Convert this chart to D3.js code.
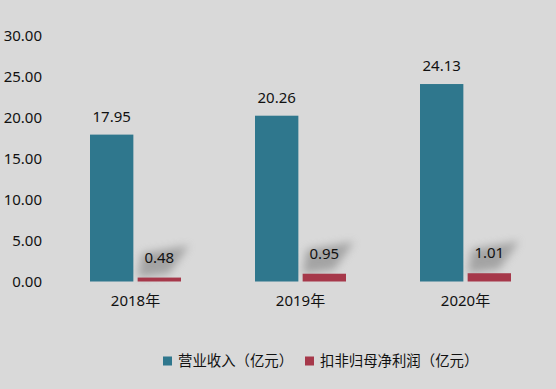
<!DOCTYPE html>
<html>
<head>
<meta charset="utf-8">
<script src="https://cdn.jsdelivr.net/npm/d3@7"></script>
<style>
  body { margin: 0; background: #d9d9d9; }
  svg { display: block; }
  text { font-family: "Noto Sans", "Noto Sans CJK SC", sans-serif; fill: #111; }
</style>
</head>
<body>
<svg id="chart" width="556" height="389"></svg>
<script>
const years = ["2018年", "2019年", "2020年"];
const revenue = [17.95, 20.26, 24.13];
const netProfit = [0.48, 0.95, 1.01];
const seriesNames = ["营业收入（亿元）", "扣非归母净利润（亿元）"];
const yTicks = [0, 5, 10, 15, 20, 25, 30];
const colors = ["#2f778d", "#a6384a"];

const svg = d3.select("#chart");
const margin = {top: 36, right: 8, bottom: 107.5, left: 53};
const width = 556 - margin.left - margin.right;
const height = 389 - margin.top - margin.bottom;

const defs = svg.append("defs");
defs.append("filter").attr("id", "blur")
  .attr("x", "-50%").attr("y", "-50%").attr("width", "200%").attr("height", "200%")
  .append("feGaussianBlur").attr("stdDeviation", 4);

const g = svg.append("g").attr("transform", "translate(" + margin.left + "," + margin.top + ")");

const x0 = d3.scaleBand().domain(years).range([0, width]).padding(0);
const x1 = d3.scaleBand().domain([0, 1]).range([x0.bandwidth() / 2 - 45.5, x0.bandwidth() / 2 + 45.5]).paddingInner(0.09);
const y = d3.scaleLinear().domain([0, 30]).range([height, 0]);

// y axis labels only
const yAxis = d3.axisLeft(y).tickValues(yTicks).tickFormat(d3.format(".2f")).tickSize(0).tickPadding(11);
g.append("g").attr("class", "axis axis--y")
  .call(yAxis)
  .call(s => s.select(".domain").remove())
  .call(s => s.selectAll("text").style("font-size", "15px").attr("fill", "#111"));

// x axis labels
const xAxis = d3.axisBottom(x0).tickSize(0).tickPadding(14);
g.append("g").attr("class", "axis axis--x")
  .attr("transform", "translate(0," + y(0) + ")")
  .call(xAxis)
  .call(s => s.select(".domain").remove())
  .call(s => s.selectAll("text").style("font-size", "15px").attr("fill", "#111"));

const groups = g.selectAll("g.year").data(years).enter().append("g")
  .attr("class", "year")
  .attr("transform", d => "translate(" + x0(d) + ",0)");

// shadows behind profit labels
groups.append("path")
  .attr("fill", "#808080")
  .attr("opacity", 0.6)
  .attr("filter", "url(#blur)")
  .attr("d", (d, i) => {
    const xl = x1(1), xr = x1(1) + x1.bandwidth();
    const yt = y(netProfit[i]);
    return "M" + xl + "," + yt + " L" + (xl + 4) + "," + (yt - 24) + " L" + (xr + 8) + "," + (yt - 32) + " L" + (xr - 12) + "," + (yt - 4) + " Z";
  });

// bars
groups.append("rect")
  .attr("x", x1(0)).attr("width", x1.bandwidth())
  .attr("y", (d, i) => y(revenue[i]))
  .attr("height", (d, i) => y(0) - y(revenue[i]))
  .attr("fill", colors[0]);
groups.append("rect")
  .attr("x", x1(1)).attr("width", x1.bandwidth())
  .attr("y", (d, i) => y(netProfit[i]))
  .attr("height", (d, i) => y(0) - y(netProfit[i]))
  .attr("fill", colors[1]);

// value labels
groups.append("text")
  .attr("x", x1(0) + x1.bandwidth() / 2)
  .attr("y", (d, i) => y(revenue[i]) - 13)
  .attr("text-anchor", "middle")
  .style("font-size", "15px")
  .text((d, i) => revenue[i].toFixed(2));
groups.append("text")
  .attr("x", x1(1) + x1.bandwidth() / 2)
  .attr("y", (d, i) => y(netProfit[i]) - 15)
  .attr("text-anchor", "middle")
  .style("font-size", "15px")
  .text((d, i) => netProfit[i].toFixed(2));

// legend
const legend = svg.append("g").attr("transform", "translate(163,361)");
const legendX = [0, 142];
seriesNames.forEach((name, i) => {
  const item = legend.append("g").attr("transform", "translate(" + legendX[i] + ",0)");
  item.append("rect").attr("x", 0).attr("y", -4.5).attr("width", 9).attr("height", 9).attr("fill", colors[i]);
  item.append("text").attr("x", 15).attr("y", 0).attr("dy", "0.35em")
    .style("font-size", "14.4px").text(name);
});
</script>
</body>
</html>
